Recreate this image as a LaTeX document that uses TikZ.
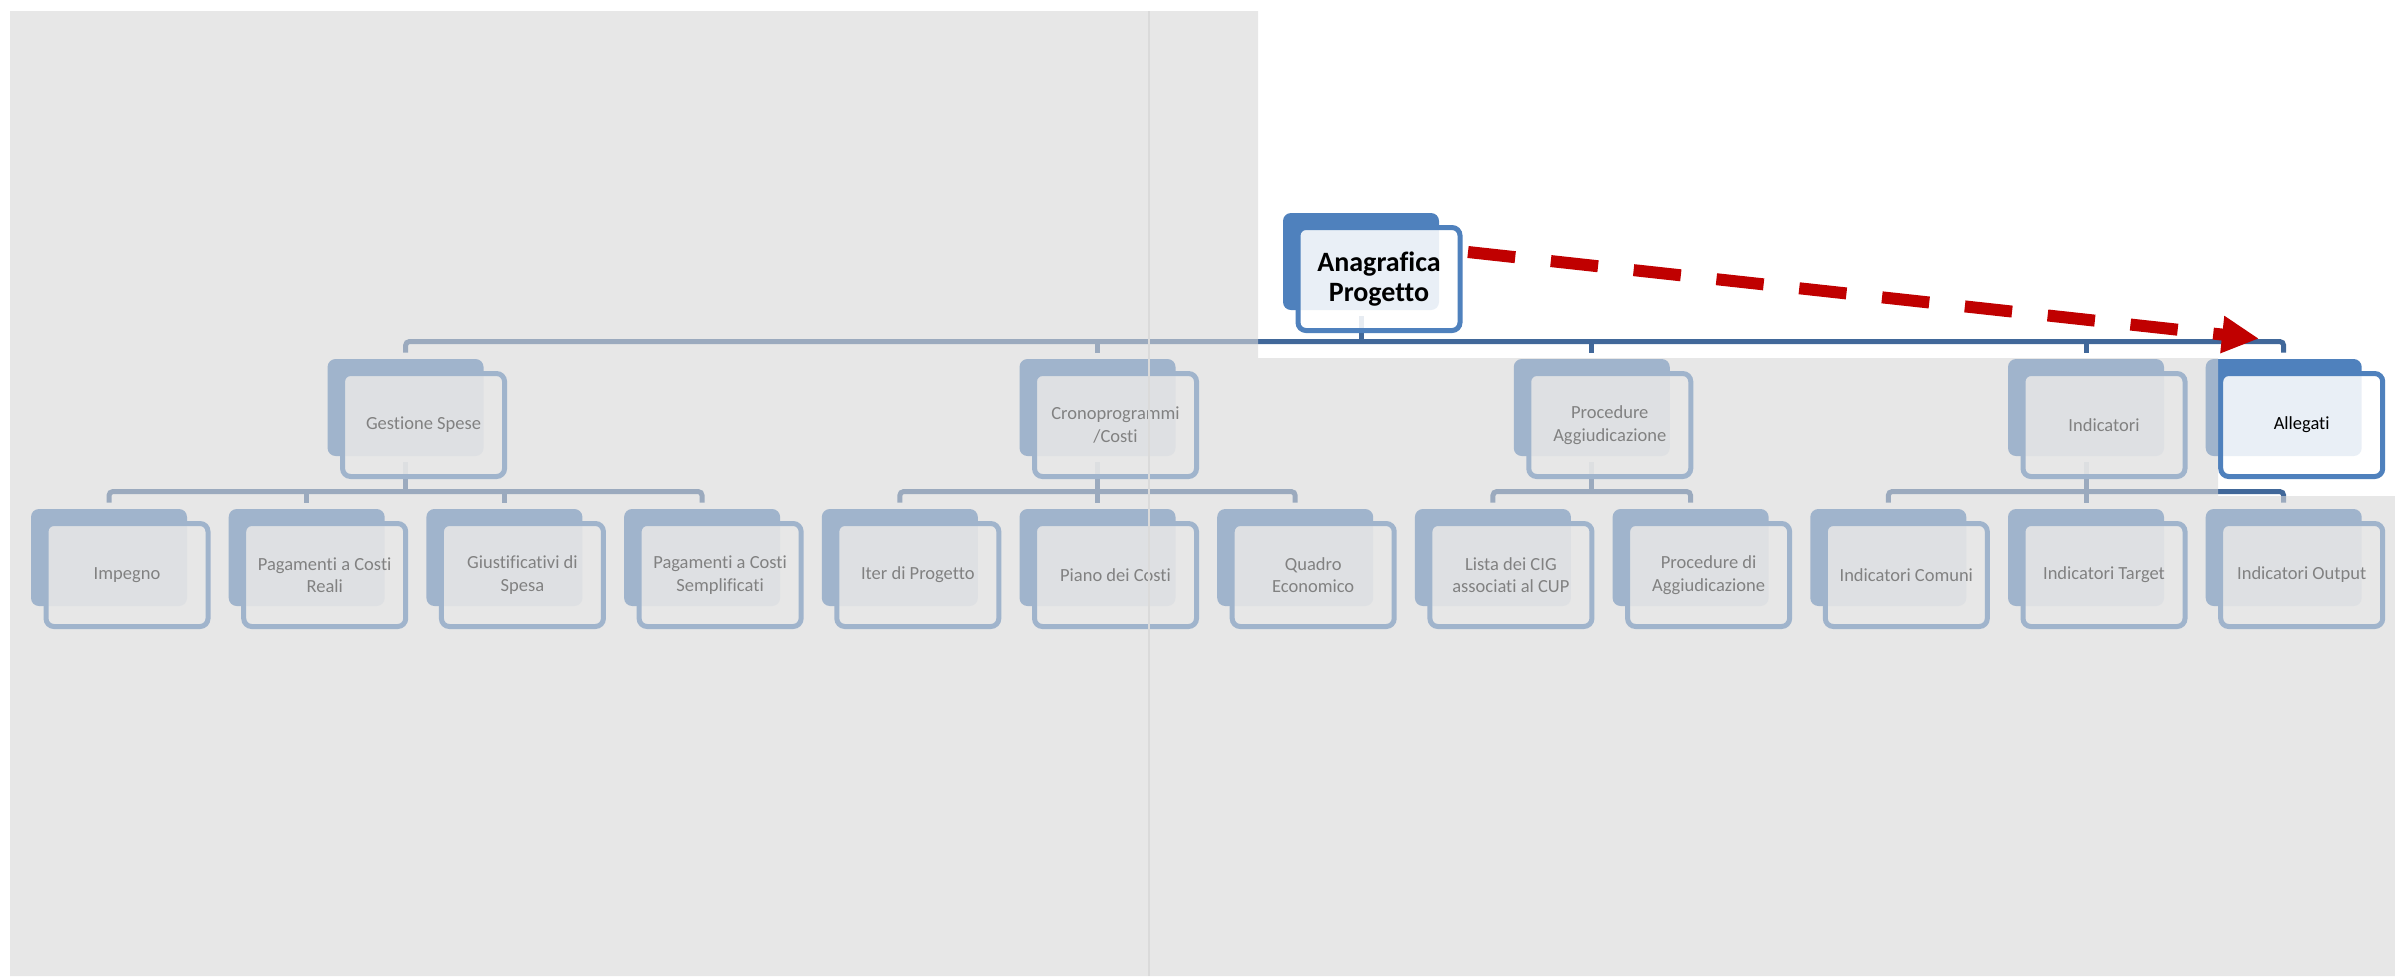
\documentclass[tikz,border=0pt]{standalone}
\usepackage{fontspec}
\setmainfont{Carlito}[Ligatures=NoCommon]
\usetikzlibrary{arrows.meta}

\pgfdeclarelayer{links}
\pgfdeclarelayer{shade}
\pgfsetlayers{links,main,shade}

\definecolor{accent}{RGB}{79,129,189}
\definecolor{linkblue}{RGB}{65,104,154}
\definecolor{veil}{RGB}{215,215,215}
\definecolor{arrowred}{RGB}{192,0,0}
\definecolor{gridgray}{RGB}{218,218,218}

\tikzset{
  tabbox/.style={fill=accent, draw=none, rounded corners=4pt,
    minimum width=78pt, minimum height=48.5pt, inner sep=0pt},
  card/.style={draw=accent, line width=2.5pt, fill=white, fill opacity=0.88,
    text opacity=1, text=black, rounded corners=4pt,
    minimum width=81pt, minimum height=51.5pt, inner sep=0pt, align=center,
    font=\fontsize{9.25pt}{11.25pt}\selectfont},
  rootcard/.style={card, font=\fontsize{14pt}{15pt}\selectfont\bfseries},
  link/.style={draw=linkblue, line width=2.5pt, rounded corners=2pt},
}

% a box: coloured tab behind, framed card in front (tab centre given)
\newcommand{\orgbox}[5][card]{%
  \node[tabbox] (#2-t) at (#3,#4) {};
  \node[#1, xshift=9pt, yshift=-8.75pt] (#2) at (#3,#4) {#5};
}

\begin{document}
\begin{tikzpicture}[x=0.5pt, y=-0.5pt]
\useasboundingbox (0,0) rectangle (2395,976);

% root
\orgbox[rootcard]{root}{1361}{261.5}{Anagrafica\\Progetto}

% first level
\orgbox{gs}{405.55}{407.5}{Gestione Spese}
\orgbox{cr}{1097.5}{407.5}{Cronoprogrammi\\/Costi}
\orgbox{pa}{1591.75}{407.5}{Procedure\\Aggiudicazione}
\orgbox{ind}{2086}{407.5}{Indicatori}
\orgbox{al}{2283.7}{407.5}{Allegati}

% second level
\orgbox{im}{109}{557.5}{Impegno}
\orgbox{pcr}{306.7}{557.5}{Pagamenti a Costi\\Reali}
\orgbox{gi}{504.4}{557.5}{Giustificativi di\\Spesa}
\orgbox{pcs}{702.1}{557.5}{Pagamenti a Costi\\Semplificati}
\orgbox{it}{899.8}{557.5}{Iter di Progetto}
\orgbox{pc}{1097.5}{557.5}{Piano dei Costi}
\orgbox{qe}{1295.2}{557.5}{Quadro\\Economico}
\orgbox{cig}{1492.9}{557.5}{Lista dei CIG\\associati al CUP}
\orgbox{pda}{1690.6}{557.5}{Procedure di\\Aggiudicazione}
\orgbox{ic}{1888.3}{557.5}{Indicatori Comuni}
\orgbox{itg}{2086}{557.5}{Indicatori Target}
\orgbox{io}{2283.7}{557.5}{Indicatori Output}

\coordinate (bus1) at (0,341.5);
\coordinate (bus2) at (0,491.5);

\begin{pgfonlayer}{links}
  % page background
  \fill[white] (0,0) rectangle (2395,976);

  % root to first level
  \draw[link] ([yshift=-3pt]root-t.south) -- (root-t.south |- bus1);
  \draw[link] ([yshift=3pt]gs-t.north) -- (gs-t.north |- bus1)
    -- (al-t.north |- bus1) -- ([yshift=3pt]al-t.north);
  \foreach \n in {cr,pa,ind}
    \draw[link] (\n-t.north |- bus1) -- ([yshift=3pt]\n-t.north);

  % first level to second level
  \foreach \p/\a/\b in {gs/im/pcs, cr/it/qe, pa/cig/pda, ind/ic/io}{
    \draw[link] ([yshift=-3pt]\p-t.south) -- (\p-t.south |- bus2);
    \draw[link] ([yshift=3pt]\a-t.north) -- (\a-t.north |- bus2)
      -- (\b-t.north |- bus2) -- ([yshift=3pt]\b-t.north);
  }
  \foreach \n in {pcr,gi,pc,itg}
    \draw[link] (\n-t.north |- bus2) -- ([yshift=3pt]\n-t.north);
\end{pgfonlayer}

\begin{pgfonlayer}{shade}
  % grey veil with clear windows on the root and on Allegati
  \fill[veil, opacity=0.6] (10,11) -- (1258,11) -- (1258,358) -- (2218,358)
    -- (2218,496) -- (2395,496) -- (2395,976) -- (10,976) -- cycle;
  \draw[gridgray, line width=0.75pt] (1149,11) -- (1149,976);

  % dashed red arrow from the root towards Allegati
  \draw[arrowred, line width=6pt, dash pattern=on 23.75pt off 17.9pt,
    -{Triangle[length=18.5pt,width=17.5pt]}]
    ([shift={(2.75pt,13.5pt)}]root.east) -- ([shift={(-12.35pt,10pt)}]al-t.north);
\end{pgfonlayer}
\end{tikzpicture}
\end{document}
